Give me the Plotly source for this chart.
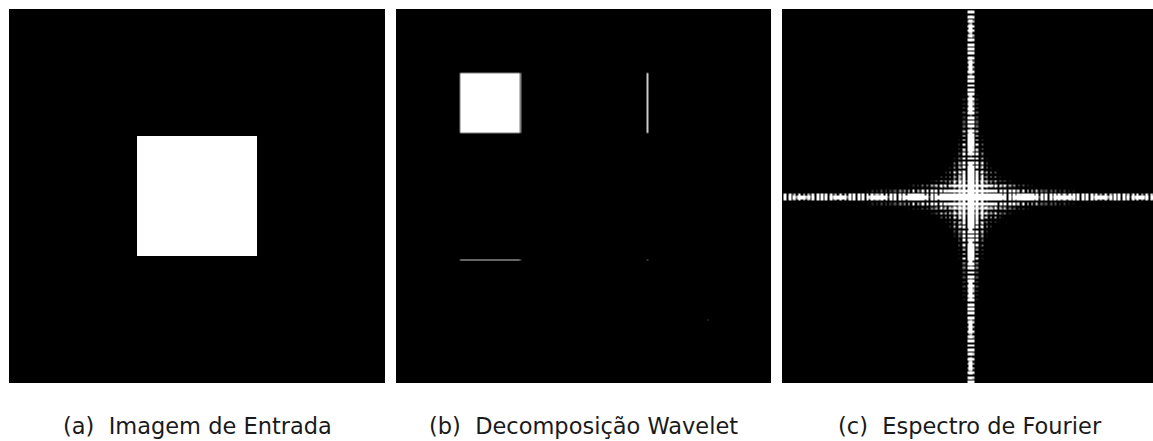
import numpy as np
import plotly.graph_objects as go

# Source image: a white square on a black background
IMAGE_SIZE = 256
SQUARE_ROWS = [87, 169]   # [start, stop)
SQUARE_COLS = [87, 169]   # [start, stop)

# Display settings for the detail sub-bands and the magnitude spectrum
DETAIL_GAIN = 1.6
SPECTRUM_LOW = 19.0
SPECTRUM_HIGH = 32.0

CAPTIONS = ["(a)  Imagem de Entrada", "(b)  Decomposição Wavelet", "(c)  Espectro de Fourier"]

# ---- input image ----
img = np.zeros((IMAGE_SIZE, IMAGE_SIZE))
img[SQUARE_ROWS[0]:SQUARE_ROWS[1], SQUARE_COLS[0]:SQUARE_COLS[1]] = 1.0

# ---- one-level Haar decomposition ----
a = img[0::2, 0::2]
b = img[0::2, 1::2]
c = img[1::2, 0::2]
d = img[1::2, 1::2]
ll = (a + b + c + d) / 4.0
hl = (b - a + d - c) / 4.0      # vertical edges
lh = (c + d - a - b) / 4.0      # horizontal edges
hh = (a - b - c + d) / 4.0      # diagonal
h = IMAGE_SIZE // 2
wave = np.zeros_like(img)
wave[:h, :h] = ll
wave[:h, h:] = np.clip(hl * DETAIL_GAIN, 0, 1)
wave[h:, :h] = np.clip(lh * DETAIL_GAIN, 0, 1)
wave[h:, h:] = np.clip(hh * DETAIL_GAIN, 0, 1)

# ---- centred Fourier magnitude ----
spec = np.abs(np.fft.fftshift(np.fft.fft2(img)))
spec_disp = np.clip((spec - SPECTRUM_LOW) / (SPECTRUM_HIGH - SPECTRUM_LOW), 0, 1)

W, H = 1153, 441
gray = [[0, "black"], [1, "white"]]

# panel placement in pixels (left, right), shared top/bottom
panels_px = [(9, 385), (396, 771), (782, 1153)]
panel_full_w = 375
top_px, bottom_px = 9, 383
ydom = [(H - bottom_px) / H, (H - top_px) / H]

fig = go.Figure()
images = [img, wave, spec_disp]
smooth = [False, "best", "best"]
for i, (z, zs) in enumerate(zip(images, smooth)):
    ax = "" if i == 0 else str(i + 1)
    fig.add_trace(go.Heatmap(
        z=z, x0=0, dx=1, y0=0, dy=1,
        colorscale=gray, zmin=0, zmax=1, showscale=False,
        zsmooth=zs, hoverinfo="skip",
        xaxis="x" + ax, yaxis="y" + ax,
    ))

layout = dict(
    width=W, height=H,
    margin=dict(l=0, r=0, t=0, b=0),
    paper_bgcolor="white", plot_bgcolor="black",
    showlegend=False,
)
for i, (l, r) in enumerate(panels_px):
    ax = "" if i == 0 else str(i + 1)
    visible_w = r - l
    xmax = -0.5 + IMAGE_SIZE * visible_w / panel_full_w if i == 2 else IMAGE_SIZE - 0.5
    layout["xaxis" + ax] = dict(domain=[l / W, r / W], range=[-0.5, xmax],
                                visible=False, fixedrange=True,
                                anchor="y" + ax)
    layout["yaxis" + ax] = dict(domain=ydom, range=[IMAGE_SIZE - 0.5, -0.5],
                                visible=False, fixedrange=True,
                                anchor="x" + ax)
fig.update_layout(**layout)

caption_centers = [197, 583.5, 970]
for cx, txt in zip(caption_centers, CAPTIONS):
    fig.add_annotation(
        x=cx / W, y=(H - 426) / H, xref="paper", yref="paper",
        text=txt, showarrow=False, xanchor="center", yanchor="middle",
        font=dict(family="DejaVu Sans", size=22.5, color="#1a1a1a"),
    )

fig.write_html("out.html")
